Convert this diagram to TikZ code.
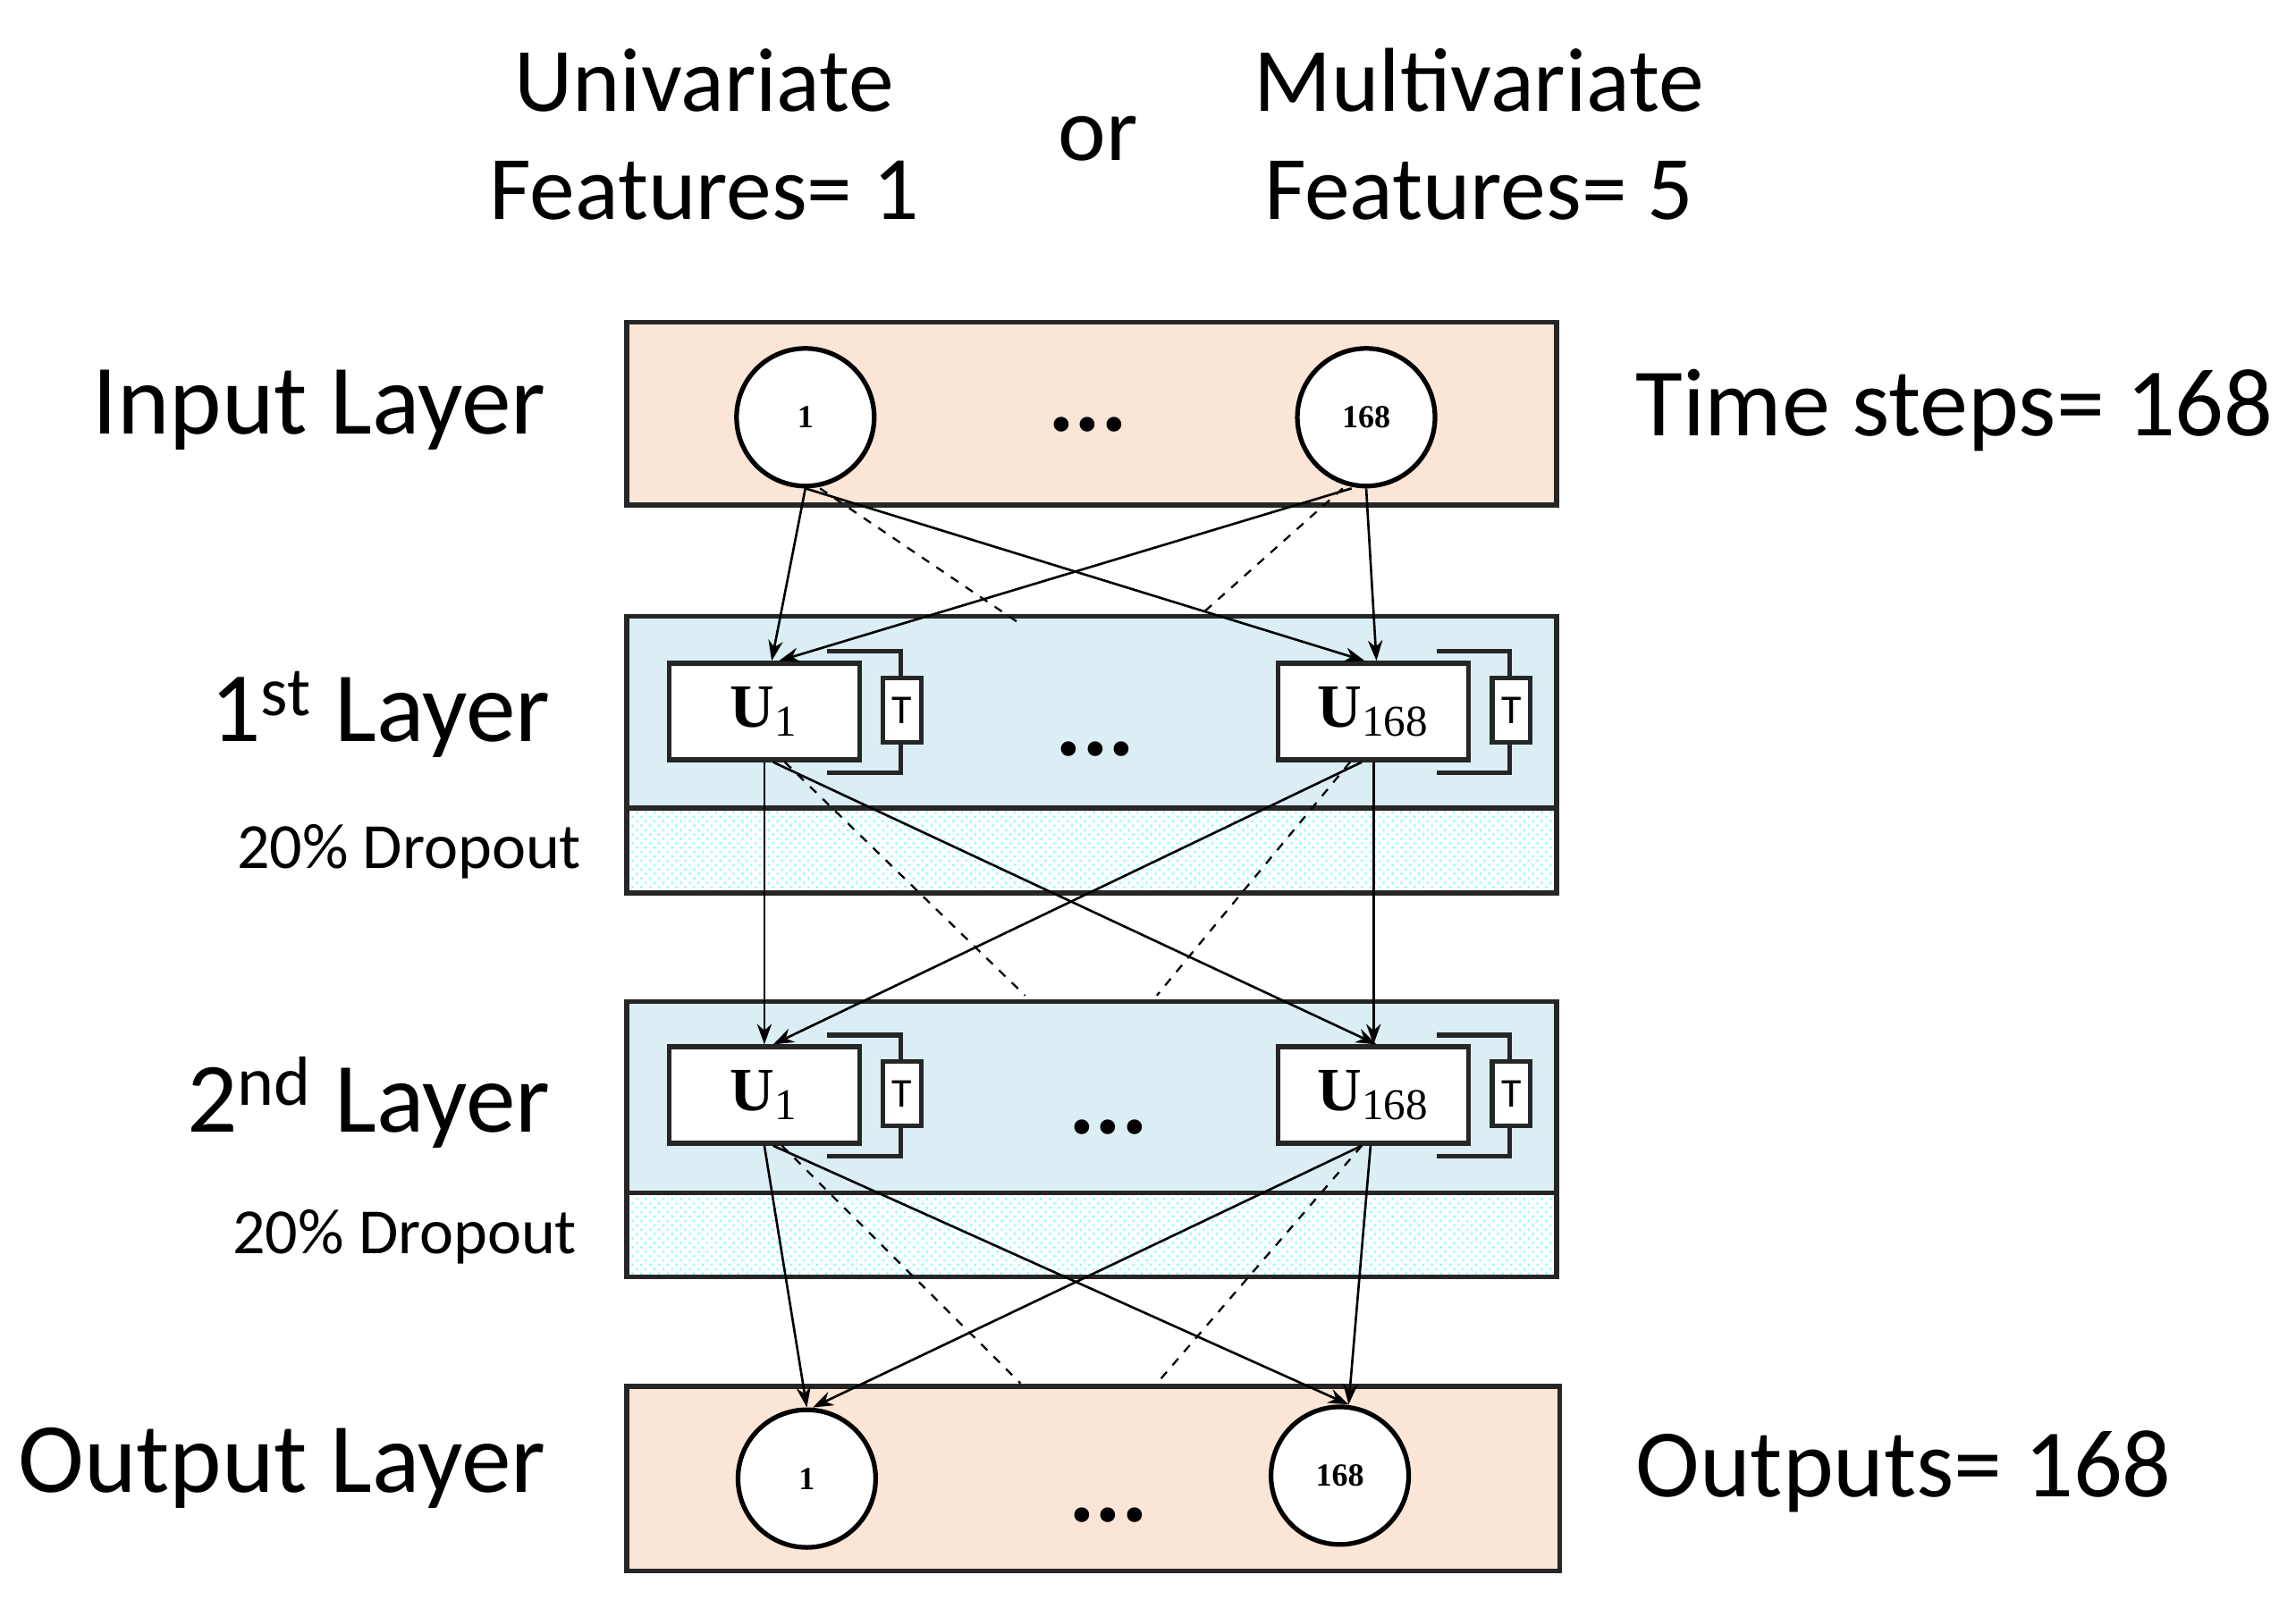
\documentclass[tikz,border=0pt]{standalone}
\usepackage{fontspec}
\setmainfont{Carlito}
\newfontfamily\serf{Liberation Serif}
\usetikzlibrary{patterns,arrows.meta}
\definecolor{peach}{HTML}{FBE5D6}
\definecolor{lblue}{HTML}{DAEEF3}
\begin{document}
\begin{tikzpicture}[x=0.5pt,y=-0.5pt,
 box/.style={draw=black!85,line width=1.6pt},
 unit/.style={draw=black!85,line width=1.6pt,fill=white},
 circ/.style={circle,draw=black,line width=1.6pt,fill=white,minimum size=47pt,inner sep=0pt,font=\serf\bfseries\fontsize{11}{13}\selectfont},
 ulab/.style={font=\serf\bfseries\fontsize{21}{24}\selectfont},
 con/.style={-{Stealth[length=7pt,width=5pt]},line width=0.8pt},
 dcon/.style={dashed,line width=0.7pt},
 lay/.style={anchor=east,font=\fontsize{34}{40}\selectfont},
 side/.style={anchor=west,font=\fontsize{33}{38}\selectfont},
 top/.style={font=\fontsize{31}{36}\selectfont},
 drop/.style={anchor=east,font=\fontsize{22}{26}\selectfont},
 dots/.style={font=\bfseries\fontsize{34}{36}\selectfont}]
\useasboundingbox (0,0) rectangle (1568,1104);
% top text
\node[top] (uv) at (481,55) {Univariate};
\node[top] (f1) at (481,130) {Features= 1};
\node[top] (or) at (750,95) {or};
\node[top] (mv) at (1010,55) {Multivariate};
\node[top] (f5) at (1010,130) {Features= 5};
% boxes
\draw[box,fill=peach] (428,220) rectangle (1063,345);
\draw[box,fill=lblue] (428,421) rectangle (1063,552);
\draw[box,pattern=crosshatch dots,pattern color=cyan!45] (428,552) rectangle (1063,610);
\draw[box,fill=lblue] (428,684) rectangle (1063,815);
\draw[box,pattern=crosshatch dots,pattern color=cyan!45] (428,815) rectangle (1063,872);
\draw[box,fill=peach] (428,947) rectangle (1065,1073);
% labels
\node[lay] (il) at (380,280) {Input Layer};
\node[lay] (l1) at (383,488) {1\textsuperscript{st} Layer};
\node[drop] (d1) at (404,582) {20\% Dropout};
\node[lay] (l2) at (383,753) {2\textsuperscript{nd} Layer};
\node[drop] (d2) at (401,845) {20\% Dropout};
\node[lay] (ol) at (380,1003) {Output Layer};
\node[side] (ts) at (1110,280) {Time steps= 168};
\node[side] (os) at (1110,1005) {Outputs= 168};
% circles
\node[circ] (i1) at (550,285) {1};
\node[circ] (i2) at (933,285) {168};
\node[dots] (di) at (743,290) {...};
\node[circ] (o1) at (551,1010) {1};
\node[circ] (o2) at (915,1008) {168};
\node[dots] (do) at (757,1035) {...};
% T loops
\foreach \y/\n in {453/a,715/b}{
  \foreach \x/\m in {457/1,873/2}{
    \draw[line width=1.6pt,black!85] (\x+108,\y-8) -- (\x+158,\y-8) -- (\x+158,\y+75) -- (\x+108,\y+75);
    \node[draw=black!85,line width=1.6pt,fill=white,minimum width=13pt,minimum height=22pt,inner sep=0pt,font=\fontsize{14}{16}\selectfont] (t\n\m) at (\x+159,\y+32) {T};
  }
}
\node[unit,minimum width=65pt,minimum height=33pt,ulab] (a1) at (522,486) {U\textsubscript{\fontsize{15}{16}\selectfont\mdseries 1}};
\node[unit,minimum width=65pt,minimum height=33pt,ulab] (a2) at (938,486) {U\textsubscript{\fontsize{15}{16}\selectfont\mdseries 168}};
\node[unit,minimum width=65pt,minimum height=33pt,ulab] (b1) at (522,748) {U\textsubscript{\fontsize{15}{16}\selectfont\mdseries 1}};
\node[unit,minimum width=65pt,minimum height=33pt,ulab] (b2) at (938,748) {U\textsubscript{\fontsize{15}{16}\selectfont\mdseries 168}};
\node[dots] (da) at (748,512) {...};
\node[dots] (db) at (757,770) {...};
% dashed ends
\coordinate (e1) at (695,425); \coordinate (e2) at (820,420);
\coordinate (e3) at (700,680); \coordinate (e4) at (790,680);
\coordinate (e5) at (697,945); \coordinate (e6) at (790,945);
% input -> layer1
\draw[con] (i1.south) -- ([xshift=2.5]a1.north);
\draw[con] (i1.south) -- ([xshift=-3]a2.north);
\draw[con] (i2.south) -- ([xshift=1]a2.north);
\draw[con] ([xshift=-5]i2.south) -- ([xshift=5]a1.north);
\draw[dcon] ([xshift=5]i1.south) -- (e1);
\draw[dcon] ([xshift=-8]i2.south) -- (e2);
% layer1 -> layer2
\draw[con] (a1.south) -- (b1.north);
\draw[con] ([xshift=3]a1.south) -- ([xshift=1]b2.north);
\draw[con] (a2.south) -- (b2.north);
\draw[con] ([xshift=-4]a2.south) -- ([xshift=3]b1.north);
\draw[dcon] ([xshift=7]a1.south) -- (e3);
\draw[dcon] ([xshift=-8]a2.south) -- (e4);
% layer2 -> output
\draw[con] (b1.south) -- (o1.north);
\draw[con] ([xshift=3]b1.south) -- ([xshift=3]o2.north);
\draw[con] ([xshift=-1]b2.south) -- ([xshift=3]o2.north);
\draw[con] ([xshift=-4]b2.south) -- ([xshift=2]o1.north);
\draw[dcon] ([xshift=6]b1.south) -- (e5);
\draw[dcon] ([xshift=-4]b2.south) -- (e6);
\end{tikzpicture}
\end{document}
